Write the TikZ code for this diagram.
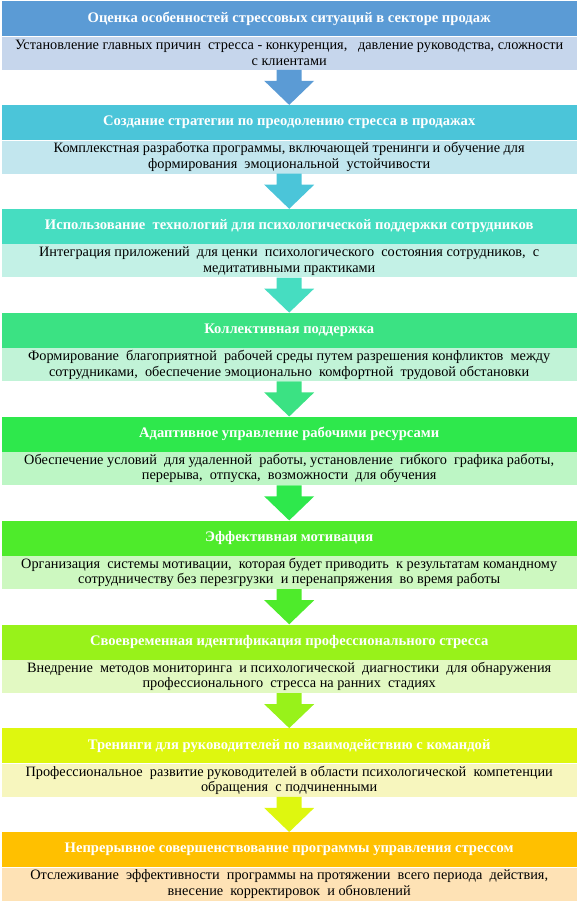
\documentclass[tikz,border=0pt]{standalone}
\usepackage{fontspec}
\setmainfont{Liberation Serif}
\usetikzlibrary{calc}
\definecolor{hA}{HTML}{5B9BD5}\definecolor{sA}{HTML}{C6D6EC}
\definecolor{hB}{HTML}{4BC5D9}\definecolor{sB}{HTML}{C2E6EE}
\definecolor{hC}{HTML}{46DDC1}\definecolor{sC}{HTML}{C3F1E6}
\definecolor{hD}{HTML}{3BE283}\definecolor{sD}{HTML}{C1F3D7}
\definecolor{hE}{HTML}{2EE84C}\definecolor{sE}{HTML}{BDF6C5}
\definecolor{hF}{HTML}{4EEB2B}\definecolor{sF}{HTML}{CDF8C0}
\definecolor{hG}{HTML}{98F21A}\definecolor{sG}{HTML}{E2F9C2}
\definecolor{hH}{HTML}{DEF70F}\definecolor{sH}{HTML}{F7F6BE}
\definecolor{hI}{HTML}{FFC000}\definecolor{sI}{HTML}{FEE2B5}
\tikzset{
  headbox/.style={fill=#1, minimum width=575, minimum height=35, inner sep=0pt,
    anchor=north west, text=white, font=\fontsize{14.6}{15.5}\selectfont\bfseries},
  subbox/.style={fill=#1, minimum width=575, minimum height=33, inner sep=0pt,
    anchor=north, align=center, text=black, font=\fontsize{14.3}{15.5}\selectfont},
}
\newcommand\flowarrow[3]{%
  \fill[#3] ($(#1.south)+(-12.5,0)$) -- ($(#1.south)+(12.5,0)$) -- ($(#1.south)+(12.5,-11)$)
    -- ($(#1.south)+(25,-11)$) -- (#2.north) -- ($(#1.south)+(-25,-11)$)
    -- ($(#1.south)+(-12.5,-11)$) -- cycle;}
\begin{document}
\begin{tikzpicture}[x=1pt,y=1pt]
\useasboundingbox (0,0) rectangle (580,-906);
\node[headbox=hA] (h1) at (1.5,-1) {Оценка особенностей стрессовых ситуаций в секторе продаж};
\node[subbox=sA] (s1) at (h1.south) {Установление главных причин\ \ стресса - конкуренция,\ \ \ давление руководства, сложности\\с клиентами};
\node[headbox=hB] (h2) at (1.5,-104.9) {Создание стратегии по преодолению стресса в продажах};
\node[subbox=sB] (s2) at (h2.south) {Комплекстная разработка программы, включающей тренинги и обучение для\\формирования\ \ эмоциональной\ \ устойчивости};
\node[headbox=hC] (h3) at (1.5,-208.8) {Использование\ \ технологий для психологической поддержки сотрудников};
\node[subbox=sC] (s3) at (h3.south) {Интеграция приложений\ \ для ценки\ \ психологического\ \ состояния сотрудников,\ \ с\\медитативными практиками};
\node[headbox=hD] (h4) at (1.5,-312.6) {Коллективная поддержка};
\node[subbox=sD] (s4) at (h4.south) {Формирование\ \ благоприятной\ \ рабочей среды путем разрешения конфликтов\ \ между\\сотрудниками,\ \ обеспечение эмоционально\ \ комфортной\ \ трудовой обстановки};
\node[headbox=hE] (h5) at (1.5,-416.5) {Адаптивное управление рабочими ресурсами};
\node[subbox=sE] (s5) at (h5.south) {Обеспечение условий\ \ для удаленной\ \ работы, установление\ \ гибкого\ \ графика работы,\\перерыва,\ \ отпуска,\ \ возможности\ \ для обучения};
\node[headbox=hF] (h6) at (1.5,-520.4) {Эффективная мотивация};
\node[subbox=sF] (s6) at (h6.south) {Организация\ \ системы мотивации,\ \ которая будет приводить\ \ к результатам командному\\сотрудничеству без перезгрузки\ \ и перенапряжения\ \ во время работы};
\node[headbox=hG] (h7) at (1.5,-624.3) {Своевременная идентификация профессионального стресса};
\node[subbox=sG] (s7) at (h7.south) {Внедрение\ \ методов мониторинга\ \ и психологической\ \ диагностики\ \ для обнаружения\\профессионального\ \ стресса на ранних\ \ стадиях};
\node[headbox=hH] (h8) at (1.5,-728.1) {Тренинги для руководителей по взаимодействию с командой};
\node[subbox=sH] (s8) at (h8.south) {Профессиональное\ \ развитие руководителей в области психологической\ \ компетенции\\обращения\ \ с подчиненными};
\node[headbox=hI] (h9) at (1.5,-832) {Непрерывное совершенствование программы управления стрессом};
\node[subbox=sI] (s9) at (h9.south) {Отслеживание\ \ эффективности\ \ программы на протяжении\ \ всего периода\ \ действия,\\внесение\ \ корректировок\ \ и обновлений};
\flowarrow{s1}{h2}{hA}
\flowarrow{s2}{h3}{hB}
\flowarrow{s3}{h4}{hC}
\flowarrow{s4}{h5}{hD}
\flowarrow{s5}{h6}{hE}
\flowarrow{s6}{h7}{hF}
\flowarrow{s7}{h8}{hG}
\flowarrow{s8}{h9}{hH}
\end{tikzpicture}
\end{document}
